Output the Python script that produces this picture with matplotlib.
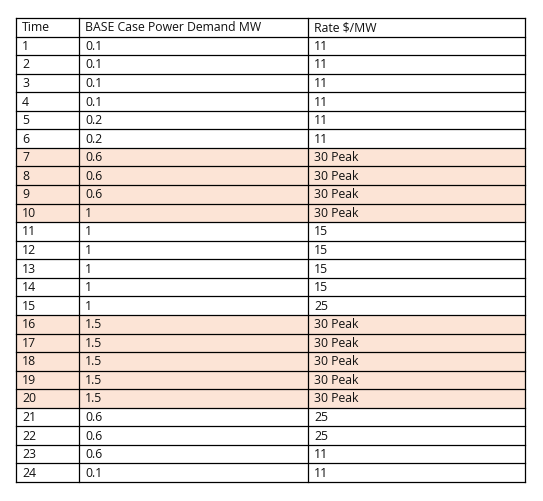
import matplotlib.pyplot as plt
from matplotlib.patches import Rectangle

headers = ['Time', 'BASE Case Power Demand MW', 'Rate $/MW']
times = list(range(1, 25))
demand = ['0.1', '0.1', '0.1', '0.1', '0.2', '0.2', '0.6', '0.6', '0.6', '1',
          '1', '1', '1', '1', '1', '1.5', '1.5', '1.5', '1.5', '1.5',
          '0.6', '0.6', '0.6', '0.1']
rate = ['11', '11', '11', '11', '11', '11', '30 Peak', '30 Peak', '30 Peak', '30 Peak',
        '15', '15', '15', '15', '25', '30 Peak', '30 Peak', '30 Peak', '30 Peak', '30 Peak',
        '25', '25', '11', '11']

fig = plt.figure(figsize=(5.43, 5.01), dpi=100)
ax = fig.add_axes([0, 0, 1, 1])
ax.set_xlim(0, 543)
ax.set_ylim(501, 0)
ax.axis('off')

col_x = [16, 79, 308, 525]
top, bottom = 18, 482
n_rows = len(times) + 1
row_h = (bottom - top) / n_rows

rows = [headers] + [[str(t), d, r] for t, d, r in zip(times, demand, rate)]
for i, row in enumerate(rows):
    y0 = top + i * row_h
    if 'Peak' in row[2]:
        ax.add_patch(Rectangle((col_x[0], y0), col_x[-1] - col_x[0], row_h,
                               facecolor='#FCE4D6', edgecolor='none'))
    for j, txt in enumerate(row):
        ax.text(col_x[j] + 6, y0 + row_h / 2 + 0.5, txt, fontsize=8.8,
                family='Open Sans', va='center', ha='left', color='#111111')

for i in range(n_rows + 1):
    y = top + i * row_h
    ax.plot([col_x[0], col_x[-1]], [y, y], color='black', lw=0.9)
for x in col_x:
    ax.plot([x, x], [top, bottom], color='black', lw=0.9)

fig.savefig('out.png', dpi=100)
